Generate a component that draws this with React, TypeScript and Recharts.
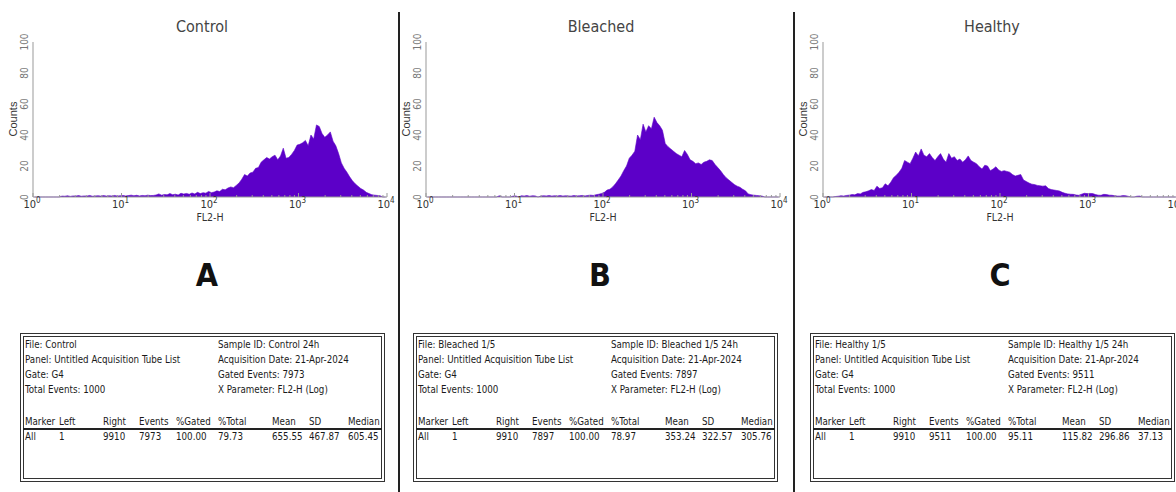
import React from 'react';
import { AreaChart, Area, XAxis, YAxis } from 'recharts';

const panelTitles = ['Control', 'Bleached', 'Healthy'];
const panelLetters = ['A', 'B', 'C'];
const decadeTicks = [0, 1, 2, 3, 4];
const countTicks = [0, 20, 40, 60, 80, 100];
const CHANNELS_PER_DECADE = 32;

const controlCounts = [
  0, 0, 0, 0, 0, 0, 0, 0, 0, 0,
  0.6, 0.5, 0.8, 0.4, 0.7, 0.6, 0.9, 0.5, 0.7, 0.6,
  1.0, 0.5, 0.7, 0.8, 0.6, 0.9, 0.6, 0.8, 0.7, 1.0,
  0.6, 0.8, 1.0, 0.7, 0.9, 1.2, 0.8, 1.1, 0.7, 1.0,
  0.8, 1.2, 0.9, 1.0, 1.3, 2.0, 1.2, 1.6, 1.4, 2.2,
  1.5, 1.8, 1.3, 2.4, 1.9, 2.3, 1.8, 2.6, 2.0, 3.0,
  2.2, 2.8, 2.5, 3.6, 2.8, 3.2, 4.0, 3.5, 5.0, 4.6,
  5.8, 6.5, 6.0, 7.5, 9.0, 11.5, 14.5, 13.5, 15.5, 16.0,
  18.5, 19.0, 22.5, 24.0, 25.5, 24.5, 26.0, 27.0, 24.0, 26.5,
  31.5, 25.0, 25.5, 27.5, 30.0, 33.5, 34.0, 35.0, 36.5, 33.0,
  40.0, 37.5, 46.5, 45.5, 41.0, 38.5, 40.0, 42.0, 36.0, 33.0,
  28.0, 22.0, 18.5, 16.0, 13.0, 10.5, 8.5, 7.0, 5.5, 4.5,
  3.0, 2.2, 1.5, 1.2, 1.0, 0.8, 0, 0,
];

const bleachedCounts = [
  0, 0, 0, 0, 0, 0, 0, 0, 0, 0,
  0, 0, 0, 0, 0, 0, 0, 0, 0, 0,
  0, 0, 0, 0, 0, 0, 0.8, 0, 0, 0,
  0, 0.6, 0.7, 0, 0.8, 0.6, 0.9, 0.5, 0.8, 0.7,
  0, 0.6, 0.8, 0.7, 0.9, 0.6, 0.8, 0.7, 0.9, 0.6,
  0.8, 0.7, 0.6, 0.9, 0.7, 0.8, 1.0, 0.7, 1.0, 1.2,
  1.0, 1.5, 1.8, 2.3, 3.0, 4.5, 5.0, 6.5, 8.5, 11.0,
  13.5, 17.0, 20.0, 25.0, 27.0, 29.5, 40.0, 37.0, 47.0, 42.0,
  46.0, 44.0, 51.5, 48.0, 46.0, 43.0, 34.5, 32.5, 31.0, 29.5,
  28.0, 27.0, 26.0, 30.0, 27.5, 24.0, 23.0, 21.5, 22.0, 21.0,
  22.5, 23.0, 24.0, 23.5, 21.0, 19.0, 17.0, 14.5, 12.5, 11.0,
  9.5, 8.0, 7.0, 6.3, 5.0, 4.0, 2.0, 1.5, 1.2, 1.0,
  0.8, 0.6, 0, 0, 0, 0, 0, 0,
];

const healthyCounts = [
  0, 0, 0, 0, 0.3, 0.5, 0.8, 0.6, 1.0, 1.2,
  1.6, 1.4, 2.2, 2.0, 3.0, 3.4, 4.0, 4.8, 4.2, 7.0,
  5.5, 6.0, 8.5, 7.2, 9.5, 12.5, 14.0, 16.0, 18.5, 23.5,
  22.5, 21.5, 25.0, 29.0, 26.5, 31.0, 27.0, 26.0, 28.0, 25.5,
  23.5, 26.0, 28.0, 24.5, 22.5, 28.0, 25.0, 26.0, 23.5, 24.5,
  22.5, 24.0, 26.5, 23.5, 22.5, 21.5, 19.5, 18.0, 20.5, 20.0,
  17.0, 18.0, 19.5, 17.5, 16.5, 17.0, 16.5, 16.0, 14.5, 13.5,
  14.0, 14.5, 11.0, 10.0, 9.0, 8.3, 8.0, 7.5, 7.2, 7.0,
  7.2, 5.5, 4.8, 4.5, 4.2, 3.9, 3.0, 2.4, 2.0, 1.8,
  1.7, 1.3, 1.1, 1.8, 2.4, 2.2, 2.3, 2.2, 1.6, 1.2,
  1.1, 1.7, 1.6, 1.2, 1.1, 0.8, 0.6, 0.6, 0.9, 0.8,
  0.4, 0, 0, 0.5, 0.6, 0, 0, 0, 0, 0,
  0, 0, 0, 0, 0, 0, 0, 0,
];

const fileNames = ['Control', 'Bleached 1/5', 'Healthy 1/5'];
const sampleIds = ['Control 24h', 'Bleached 1/5 24h', 'Healthy 1/5 24h'];
const gatedEvents = ['7973', '7897', '9511'];
const panelName = 'Untitled Acquisition Tube List';
const gateName = 'G4';
const totalEvents = '1000';
const acquisitionDate = '21-Apr-2024';
const xParameter = 'FL2-H (Log)';
const statHeaders = ['Marker', 'Left', 'Right', 'Events', '%Gated', '%Total', 'Mean', 'SD', 'Median'];
const statRows = [
  ['All', '1', '9910', '7973', '100.00', '79.73', '655.55', '467.87', '605.45'],
  ['All', '1', '9910', '7897', '100.00', '78.97', '353.24', '322.57', '305.76'],
  ['All', '1', '9910', '9511', '100.00', '95.11', '115.82', '296.86', '37.13'],
];

const seriesList = [controlCounts, bleachedCounts, healthyCounts];

// layout
const NARROW = "'Liberation Sans Narrow', 'DejaVu Sans Condensed', 'Liberation Sans', sans-serif";
const PURPLE = '#5c00c8';
const panelLefts = [0, 393, 790];
const titleCenters = [202, 601, 992];
const letterCenters = [207, 600, 1000];
const boxLefts = [20, 413, 810];
const colOffsets = [5, 39, 83, 119, 156, 198, 252, 289, 328];

const allTicks: number[] = [];
decadeTicks.forEach((d) => {
  allTicks.push(d);
  if (d < 4) {
    for (let k = 2; k <= 9; k++) allTicks.push(d + Math.log10(k));
  }
});

const XTick = (props: any) => {
  const { x, y, payload } = props;
  const v = payload.value;
  const major = Math.abs(v - Math.round(v)) < 1e-6;
  return (
    <g>
      <line x1={x} x2={x} y1={y} y2={y - (major ? 4 : 2)} stroke="#999" strokeWidth={1} />
      {major && (
        <text x={x - 1} y={y + 11} textAnchor="middle" fontSize={11} fill="#333" fontFamily={NARROW}>
          <tspan>10</tspan>
          <tspan dy={-5} fontSize={8}>{Math.round(v)}</tspan>
        </text>
      )}
    </g>
  );
};

const YTick = (props: any) => {
  const { x, y, payload } = props;
  const bx = x - 5;
  return (
    <text
      x={bx}
      y={y}
      transform={`rotate(-90, ${bx}, ${y})`}
      textAnchor="middle"
      fontSize={10}
      fill="#777"
      fontFamily={NARROW}
    >
      {payload.value}
    </text>
  );
};

function Histogram({ counts }: { counts: number[] }) {
  const data = counts.map((c, i) => ({ x: (i + 0.5) / CHANNELS_PER_DECADE, y: c }));
  return (
    <AreaChart width={400} height={230} data={data} margin={{ top: 42, right: 13, bottom: 13, left: 13 }}>
      <XAxis
        xAxisId="b"
        dataKey="x"
        type="number"
        domain={[0, 4]}
        ticks={allTicks}
        interval={0}
        tick={<XTick />}
        tickLine={false}
        tickSize={0}
        tickMargin={0}
        axisLine={{ stroke: '#999' }}
        height={20}
      />
      <XAxis
        xAxisId="t"
        orientation="top"
        dataKey="x"
        type="number"
        domain={[0, 4]}
        tick={false}
        tickLine={false}
        axisLine={{ stroke: '#bbb' }}
        height={0}
      />
      <YAxis
        yAxisId="l"
        type="number"
        domain={[0, 100]}
        ticks={countTicks}
        interval={0}
        tick={<YTick />}
        tickLine={false}
        tickSize={0}
        tickMargin={0}
        axisLine={{ stroke: '#999' }}
        width={20}
      />
      <YAxis
        yAxisId="r"
        orientation="right"
        type="number"
        domain={[0, 100]}
        tick={false}
        tickLine={false}
        axisLine={{ stroke: '#bbb' }}
        width={0}
      />
      <Area
        xAxisId="b"
        yAxisId="l"
        dataKey="y"
        type="linear"
        fill={PURPLE}
        fillOpacity={1}
        stroke={PURPLE}
        strokeWidth={0.6}
        isAnimationActive={false}
      />
    </AreaChart>
  );
}

const textStyle: React.CSSProperties = {
  position: 'absolute',
  fontFamily: NARROW,
  fontSize: 9.7,
  lineHeight: '12px',
  color: '#1a1a1a',
  whiteSpace: 'nowrap',
};

function StatsBox({ idx }: { idx: number }) {
  const left = boxLefts[idx];
  const infoRows = [
    [`File: ${fileNames[idx]}`, `Sample ID: ${sampleIds[idx]}`],
    [`Panel: ${panelName}`, `Acquisition Date: ${acquisitionDate}`],
    [`Gate: ${gateName}`, `Gated Events: ${gatedEvents[idx]}`],
    [`Total Events: ${totalEvents}`, `X Parameter: ${xParameter}`],
  ];
  const rowTops = [339, 354, 369, 384];
  return (
    <>
      <div
        style={{
          position: 'absolute',
          left,
          top: 333,
          width: 365,
          height: 149,
          border: '4px double #333',
          boxSizing: 'border-box',
        }}
      />
      {infoRows.map((r, i) => (
        <React.Fragment key={i}>
          <div style={{ ...textStyle, left: left + colOffsets[0], top: rowTops[i] }}>{r[0]}</div>
          <div style={{ ...textStyle, left: left + colOffsets[5], top: rowTops[i] }}>{r[1]}</div>
        </React.Fragment>
      ))}
      {statHeaders.map((h, j) => (
        <div key={h} style={{ ...textStyle, left: left + colOffsets[j], top: 416 }}>{h}</div>
      ))}
      <div style={{ position: 'absolute', left: left + 3, top: 428, width: 359, height: 2, background: '#222' }} />
      {statRows[idx].map((v, j) => (
        <div key={j} style={{ ...textStyle, left: left + colOffsets[j], top: 431 }}>{v}</div>
      ))}
    </>
  );
}

export default function App() {
  return (
    <div
      style={{
        position: 'absolute',
        left: 0,
        top: 0,
        width: 1176,
        height: 492,
        overflow: 'hidden',
        background: '#fff',
      }}
    >
      {seriesList.map((counts, idx) => (
        <React.Fragment key={idx}>
          <div style={{ position: 'absolute', left: panelLefts[idx], top: 0 }}>
            <Histogram counts={counts} />
          </div>
          <div
            style={{
              position: 'absolute',
              left: titleCenters[idx] - 60,
              width: 120,
              top: 17,
              textAlign: 'center',
              fontFamily: NARROW,
              fontSize: 16,
              color: '#444',
            }}
          >
            {panelTitles[idx]}
          </div>
          <div
            style={{
              position: 'absolute',
              left: panelLefts[idx] + 33 + 177 - 40,
              width: 80,
              top: 211,
              textAlign: 'center',
              fontFamily: NARROW,
              fontSize: 10.5,
              color: '#333',
            }}
          >
            FL2-H
          </div>
          <div
            style={{
              position: 'absolute',
              left: panelLefts[idx] + 14 - 40,
              width: 80,
              top: 119 - 7,
              height: 14,
              textAlign: 'center',
              fontFamily: "'Liberation Sans', Arial, sans-serif",
              fontSize: 11,
              color: '#333',
              transform: 'rotate(-90deg)',
            }}
          >
            Counts
          </div>
          <div
            style={{
              position: 'absolute',
              left: letterCenters[idx] - 30,
              width: 60,
              top: 256,
              textAlign: 'center',
              fontFamily: NARROW,
              fontSize: 32,
              fontWeight: 'bold',
              color: '#111',
            }}
          >
            {panelLetters[idx]}
          </div>
          <StatsBox idx={idx} />
        </React.Fragment>
      ))}
      <div style={{ position: 'absolute', left: 398, top: 12, width: 2, height: 480, background: '#222' }} />
      <div style={{ position: 'absolute', left: 793, top: 12, width: 2, height: 480, background: '#222' }} />
    </div>
  );
}
